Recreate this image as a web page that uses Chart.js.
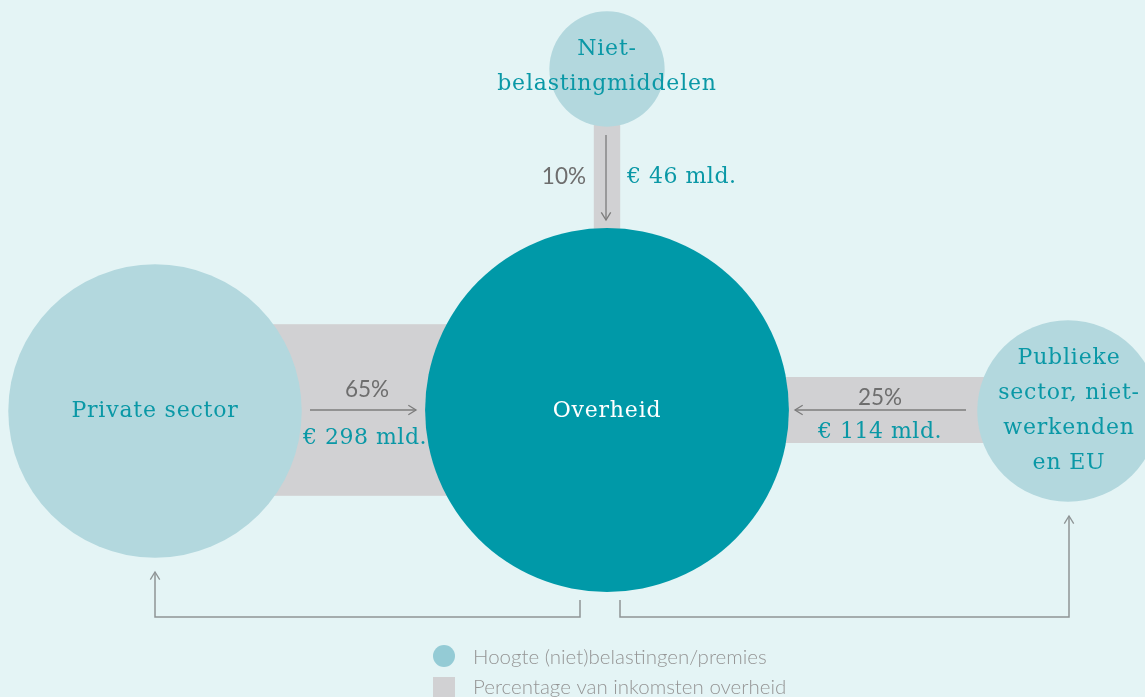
<!DOCTYPE html>
<html>
<head>
<meta charset="utf-8">
<script src="https://cdn.jsdelivr.net/npm/chart.js@4.4.1/dist/chart.umd.min.js"></script>
<style>
  html, body { margin: 0; padding: 0; background: #e4f4f5; }
  #wrap { width: 1145px; height: 697px; position: relative; }
</style>
</head>
<body>
<div id="wrap"><canvas id="flow"></canvas></div>
<script>
// Data
const nodes = [['Overheid'], ['Niet-', 'belastingmiddelen'], ['Private sector'], ['Publieke', 'sector, niet-', 'werkenden', 'en EU']];
const amounts = [458, 46, 298, 114];          // € mld.
const shares = [100, 10, 65, 25];             // % van inkomsten overheid
const shareLabels = ['', '10%', '65%', '25%'];
const amountLabels = ['', '€ 46 mld.', '€ 298 mld.', '€ 114 mld.'];
const legendLabels = ['Hoogte (niet)belastingen/premies', 'Percentage van inkomsten overheid'];

// Layout (chart units == pixels, y pointing down)
const nodePos = [{ x: 607, y: 410 }, { x: 607, y: 69 }, { x: 155, y: 411 }, { x: 1068, y: 411 }];
const textCenter = [{ x: 607, y: 411 }, { x: 607, y: 67 }, { x: 155, y: 411 }, { x: 1069, y: 411 }];
const radiusPerSqrt = 8.5;
const bandPerPct = 2.64;
const lineGap = 35;

const flowArrows = [
  [{ x: 606, y: 135 }, { x: 606, y: 220 }],
  [{ x: 310, y: 410 }, { x: 416, y: 410 }],
  [{ x: 966, y: 410 }, { x: 795, y: 410 }]
];
const returnArrows = [
  [{ x: 580, y: 600 }, { x: 580, y: 617 }, { x: 155, y: 617 }, { x: 155, y: 572 }],
  [{ x: 620, y: 600 }, { x: 620, y: 617 }, { x: 1069, y: 617 }, { x: 1069, y: 516 }]
];
const labelPos = [
  null,
  { pct: { x: 586, y: 177, align: 'right' }, amt: { x: 627, y: 177, align: 'left' } },
  { pct: { x: 367, y: 390, align: 'center' }, amt: { x: 365, y: 438, align: 'center' } },
  { pct: { x: 880, y: 398, align: 'center' }, amt: { x: 880, y: 432, align: 'center' } }
];

const colors = {
  light: '#b3d8de',
  main: '#0099a8',
  band: '#d1d1d3',
  arrow: '#7c7c7c',
  connector: '#8e9495',
  teal: '#0a98a6',
  gray: '#6e6e6e',
  legendText: '#959595',
  legendDot: '#94cbd5'
};

const serif = '"DejaVu Serif", serif';
const sans = 'Lato, "Open Sans", sans-serif';

// Gray bands under the circles
const bandsPlugin = {
  id: 'bands',
  beforeDatasetsDraw(chart) {
    const { ctx, scales: { x, y } } = chart;
    ctx.save();
    ctx.fillStyle = colors.band;
    for (let i = 1; i < nodes.length; i++) {
      const a = nodePos[0], b = nodePos[i];
      const half = shares[i] * bandPerPct / 2;
      if (a.x === b.x) {
        const l = x.getPixelForValue(a.x - half), r = x.getPixelForValue(a.x + half);
        const t = y.getPixelForValue(Math.min(a.y, b.y)), btm = y.getPixelForValue(Math.max(a.y, b.y));
        ctx.fillRect(l, t, r - l, btm - t);
      } else {
        const l = x.getPixelForValue(Math.min(a.x, b.x)), r = x.getPixelForValue(Math.max(a.x, b.x));
        const t = y.getPixelForValue(a.y - half), btm = y.getPixelForValue(a.y + half);
        ctx.fillRect(l, t, r - l, btm - t);
      }
    }
    ctx.restore();
  }
};

function drawHead(ctx, x, y, from, to, color) {
  const ang = Math.atan2(to.y - from.y, to.x - from.x);
  const len = 9, spread = 0.55;
  ctx.strokeStyle = color;
  ctx.lineWidth = 1.3;
  ctx.beginPath();
  ctx.moveTo(x - len * Math.cos(ang - spread), y - len * Math.sin(ang - spread));
  ctx.lineTo(x, y);
  ctx.lineTo(x - len * Math.cos(ang + spread), y - len * Math.sin(ang + spread));
  ctx.stroke();
}

// Arrow heads, labels and legend
const labelsPlugin = {
  id: 'labels',
  afterDatasetsDraw(chart) {
    const { ctx, scales: { x, y } } = chart;
    ctx.save();

    flowArrows.forEach(p => {
      const a = p[p.length - 2], b = p[p.length - 1];
      drawHead(ctx, x.getPixelForValue(b.x), y.getPixelForValue(b.y), a, b, colors.arrow);
    });
    returnArrows.forEach(p => {
      const a = p[p.length - 2], b = p[p.length - 1];
      drawHead(ctx, x.getPixelForValue(b.x), y.getPixelForValue(b.y), a, b, colors.connector);
    });

    ctx.textBaseline = 'middle';
    nodes.forEach((lines, i) => {
      ctx.font = '22px ' + serif;
      ctx.letterSpacing = '0.8px';
      ctx.fillStyle = i === 0 ? '#ffffff' : colors.teal;
      ctx.textAlign = 'center';
      const c = textCenter[i];
      const top = c.y - (lines.length - 1) * lineGap / 2;
      lines.forEach((t, k) => {
        ctx.fillText(t, x.getPixelForValue(c.x), y.getPixelForValue(top + k * lineGap));
      });
      const lp = labelPos[i];
      if (!lp) return;
      ctx.letterSpacing = '0px';
      ctx.font = '22.5px ' + sans;
      ctx.fillStyle = colors.gray;
      ctx.textAlign = lp.pct.align;
      ctx.fillText(shareLabels[i], x.getPixelForValue(lp.pct.x), y.getPixelForValue(lp.pct.y));
      ctx.font = '22px ' + serif;
      ctx.letterSpacing = '0.5px';
      ctx.fillStyle = colors.teal;
      ctx.textAlign = lp.amt.align;
      ctx.fillText(amountLabels[i], x.getPixelForValue(lp.amt.x), y.getPixelForValue(lp.amt.y));
    });

    // legend
    ctx.letterSpacing = '0px';
    ctx.textAlign = 'left';
    ctx.font = '300 20.5px ' + sans;
    ctx.fillStyle = colors.legendDot;
    ctx.beginPath();
    ctx.arc(444, 656, 11, 0, Math.PI * 2);
    ctx.fill();
    ctx.fillStyle = colors.band;
    ctx.fillRect(433, 677, 22, 22);
    ctx.fillStyle = colors.legendText;
    ctx.fillText(legendLabels[0], 473, 657);
    ctx.fillText(legendLabels[1], 473, 687);
    ctx.restore();
  }
};

const lineSet = (pts, color, width) => ({
  type: 'line',
  data: pts,
  borderColor: color,
  borderWidth: width,
  pointRadius: 0,
  pointHoverRadius: 0,
  fill: false,
  tension: 0,
  order: 0
});

const ctx = document.getElementById('flow').getContext('2d');
const flowChart = new Chart(ctx, {
  type: 'bubble',
  data: {
    datasets: [
      {
        label: 'Hoogte (niet)belastingen/premies',
        data: nodes.map((n, i) => ({ x: nodePos[i].x, y: nodePos[i].y, r: Math.sqrt(amounts[i]) * radiusPerSqrt })),
        backgroundColor: nodes.map((n, i) => i === 0 ? colors.main : colors.light),
        borderWidth: 0,
        hoverBorderWidth: 0,
        hoverRadius: 0,
        order: 1
      },
      ...flowArrows.map(p => lineSet(p, colors.arrow, 1.3)),
      ...returnArrows.map(p => lineSet(p, colors.connector, 1.5))
    ]
  },
  options: {
    responsive: true,
    maintainAspectRatio: false,
    animation: false,
    events: [],
    layout: { padding: 0, autoPadding: false },
    plugins: { legend: { display: false }, tooltip: { enabled: false } },
    scales: {
      x: { type: 'linear', min: 0, max: 1145, display: false },
      y: { type: 'linear', min: 0, max: 697, reverse: true, display: false }
    }
  },
  plugins: [bandsPlugin, labelsPlugin]
});
</script>
</body>
</html>
